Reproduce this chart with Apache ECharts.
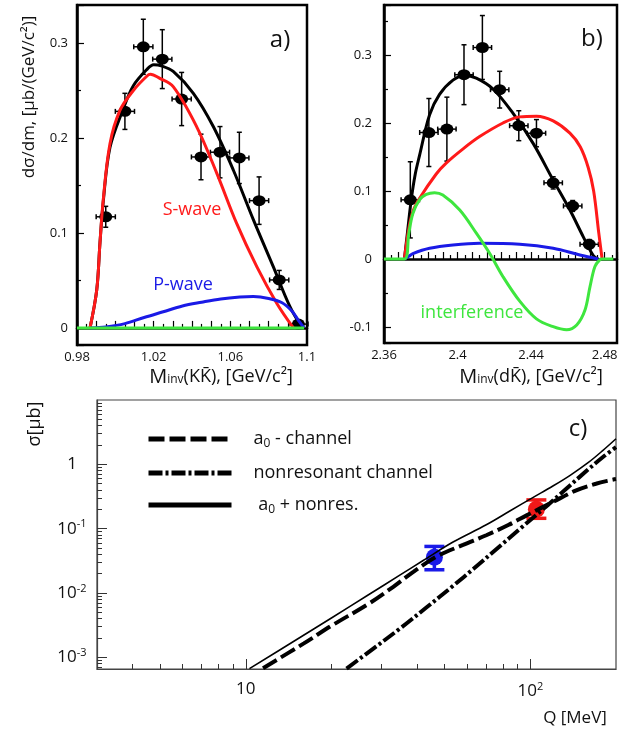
<!DOCTYPE html>
<html lang="en">
<head>
<meta charset="UTF-8">
<title>KK̄ and dK̄ mass spectra, total cross section</title>
<script src="https://cdn.jsdelivr.net/npm/echarts@6/dist/echarts.min.js"></script>
<style>
html, body { margin: 0; padding: 0; background: #fff; }
#chart { width: 640px; height: 731px; }
</style>
</head>
<body>
<div id="chart"></div>
<script>
// ---- panel a) : M_inv(K Kbar) ----
const aMass = [0.995, 1.005, 1.0146, 1.0245, 1.0346, 1.0447, 1.0546, 1.0647, 1.075, 1.0855, 1.0955];
const aVal  = [0.117, 0.228, 0.296, 0.283, 0.241, 0.180, 0.185, 0.179, 0.134, 0.0505, 0.004];
const aErr  = [0.011, 0.019, 0.029, 0.031, 0.028, 0.024, 0.027, 0.027, 0.025, 0.010, 0.004];
const aTotal = [[0.9868,0],[0.9903,0.04],[0.992,0.09],[0.9937,0.133],[0.9972,0.19],[1.0042,0.231],[1.0094,0.255],
  [1.0164,0.272],[1.0200,0.277],[1.0240,0.276],[1.0302,0.270],[1.0407,0.247],[1.0511,0.212],[1.0616,0.166],
  [1.072,0.114],[1.0824,0.0645],[1.0911,0.0224],[1.0975,0]];
const aSwave = [[0.9868,0],[0.9903,0.04],[0.992,0.09],[0.9937,0.135],[0.9972,0.194],[1.0024,0.229],[1.0094,0.25],
  [1.0164,0.265],[1.0183,0.267],[1.0230,0.263],[1.0302,0.254],[1.0424,0.212],[1.0529,0.163],[1.0633,0.11],
  [1.0738,0.0645],[1.0842,0.026],[1.0929,0]];
const aPwave = [[0.987,0],[0.995,0.001],[1.005,0.0045],[1.015,0.011],[1.025,0.017],[1.035,0.023],[1.045,0.027],
  [1.055,0.0305],[1.065,0.0325],[1.072,0.033],[1.08,0.031],[1.087,0.0265],[1.092,0.018],[1.0955,0.008],[1.0985,0]];
const aInterf = [[0.98,0],[1.0985,0]];

// ---- panel b) : M_inv(d Kbar) ----
const bMass = [2.3743, 2.3844, 2.3942, 2.4035, 2.4135, 2.4229, 2.4333, 2.4429, 2.452, 2.4626, 2.4716];
const bVal  = [0.087, 0.186, 0.191, 0.271, 0.311, 0.249, 0.196, 0.185, 0.112, 0.078, 0.0216];
const bErr  = [0.056, 0.05, 0.047, 0.044, 0.047, 0.027, 0.022, 0.02, 0.009, 0.008, 0.007];
const bTotal = [[2.3711,0],[2.3728,0.04],[2.3748,0.087],[2.3770,0.125],[2.3793,0.152],[2.3848,0.212],[2.3902,0.242],
  [2.3975,0.263],[2.404,0.270],[2.4102,0.266],[2.4193,0.25],[2.4302,0.214],[2.4411,0.170],[2.452,0.116],
  [2.4611,0.072],[2.4683,0.033],[2.4738,0.005],[2.4765,0]];
const bSwave = [[2.3711,0],[2.3735,0.045],[2.3757,0.07],[2.3793,0.089],[2.3884,0.125],[2.3938,0.141],[2.4030,0.162],
  [2.4120,0.18],[2.4247,0.2],[2.4337,0.209],[2.4429,0.21],[2.452,0.203],[2.4611,0.185],[2.4667,0.165],
  [2.471,0.135],[2.474,0.1],[2.4768,0.038],[2.4786,0]];
const bPwave = [[2.3711,0],[2.3735,0.004],[2.3757,0.008],[2.3848,0.0157],[2.3975,0.0205],[2.412,0.023],
  [2.4338,0.0216],[2.452,0.0157],[2.4665,0.006],[2.4765,0]];
const bInterf = [[2.36,0],[2.3711,0],[2.3735,0.038],[2.3757,0.067],[2.3793,0.087],[2.383,0.095],[2.3875,0.0975],
  [2.392,0.094],[2.4012,0.072],[2.4102,0.038],[2.4175,0.008],[2.4247,-0.026],[2.4338,-0.062],[2.4429,-0.088],
  [2.452,-0.0995],[2.4593,-0.104],[2.4648,-0.097],[2.4693,-0.075],[2.472,-0.041],[2.4747,-0.011],
  [2.4774,-0.001],[2.4786,0],[2.4847,0]];

// ---- panel c) : sigma(Q) ----
const cSum = [[10.3,6.7e-4],[15,1.86e-3],[20,4.1e-3],[27,9.4e-3],[35,0.0193],[42,0.032],[53.5,0.062],[70,0.115],
  [85,0.19],[102,0.304],[120,0.46],[138,0.675],[160,1.07],[180,1.65],[200,2.5]];
const cA0 = [[11.5,6.8e-4],[16,1.65e-3],[20,3.1e-3],[27,6.8e-3],[33,0.0125],[38.8,0.0213],[46.9,0.037],[58,0.056],
  [70,0.079],[84,0.115],[97,0.161],[120,0.26],[145,0.395],[170,0.5],[190,0.565],[200,0.59]];
const cNonres = [[22.6,6.7e-4],[28,1.36e-3],[34.8,2.8e-3],[43,5.9e-3],[53.6,0.013],[63,0.0236],[77,0.0506],
  [92,0.0995],[114,0.224],[131,0.385],[158,0.8],[180,1.3],[200,1.85]];
const cQ     = [46, 105];
const cSigma = [0.036, 0.2];
const cLow   = [0.023, 0.145];
const cHigh  = [0.053, 0.28];
const cColors = ['#1a1ae8', '#f01818'];

const cXMajor = [10, 100];
const cXMinor = [4, 5, 6, 7, 8, 9, 20, 30, 40, 50, 60, 70, 80, 90];
const cYMajor = [1e-3, 1e-2, 1e-1, 1];
const cYMinor = [7e-4, 8e-4, 9e-4, 2e-3, 3e-3, 4e-3, 5e-3, 6e-3, 7e-3, 8e-3, 9e-3,
  0.02, 0.03, 0.04, 0.05, 0.06, 0.07, 0.08, 0.09, 0.2, 0.3, 0.4, 0.5, 0.6, 0.7, 0.8, 0.9,
  2, 3, 4, 5, 6, 7, 8, 9];

const FONT = "'Open Sans', 'DejaVu Sans', sans-serif";
const RED = '#ff1a1a', BLUE = '#1a1ae6', GREEN = '#3ee63e';

const chart = echarts.init(document.getElementById('chart'));

function errBars(xHalf, cap, width) {
  return function (params, api) {
    const x = api.value(0), y = api.value(1), e = api.value(2);
    const top = api.coord([x, y + e]), bot = api.coord([x, y - e]);
    const lft = api.coord([x - xHalf, y]), rgt = api.coord([x + xHalf, y]);
    const st = { stroke: '#000', lineWidth: width };
    const seg = (x1, y1, x2, y2) => ({ type: 'line', shape: { x1, y1, x2, y2 }, style: st });
    return { type: 'group', children: [
      seg(top[0], top[1], bot[0], bot[1]),
      seg(top[0] - cap, top[1], top[0] + cap, top[1]),
      seg(bot[0] - cap, bot[1], bot[0] + cap, bot[1]),
      seg(lft[0], lft[1], rgt[0], rgt[1]),
      seg(lft[0], lft[1] - cap, lft[0], lft[1] + cap),
      seg(rgt[0], rgt[1] - cap, rgt[0], rgt[1] + cap)
    ]};
  };
}

function pointBars(params, api) {
  const x = api.value(0), lo = api.value(2), hi = api.value(3);
  const a = api.coord([x, hi]), b = api.coord([x, lo]);
  const st = { stroke: api.visual('color'), lineWidth: 3.5 };
  return { type: 'group', children: [
    { type: 'line', shape: { x1: a[0], y1: a[1], x2: b[0], y2: b[1] }, style: st },
    { type: 'line', shape: { x1: a[0] - 10, y1: a[1], x2: a[0] + 10, y2: a[1] }, style: st },
    { type: 'line', shape: { x1: b[0] - 10, y1: b[1], x2: b[0] + 10, y2: b[1] }, style: st }
  ]};
}

const tickLbl = { fontFamily: FONT, fontSize: 13, color: '#111' };
const frameLine = { lineStyle: { color: '#000', width: 2.5 } };
const inTick = (len) => ({ inside: true, length: len, lineStyle: { color: '#000', width: 1.2 } });

function linAxis(grid, min, max, extra) {
  return Object.assign({
    gridIndex: grid, type: 'value', min: min, max: max,
    axisLine: frameLine, axisTick: inTick(7),
    minorTick: { show: true, splitNumber: 2, length: 4, lineStyle: { color: '#000', width: 1.2 } },
    splitLine: { show: false }, minorSplitLine: { show: false }
  }, extra);
}

const xLabA = (v) => Math.round((v - 0.98) / 0.01) % 4 === 0 ? String(+v.toFixed(2)) : '';
const xLabB = (v) => Math.round((v - 2.36) / 0.008) % 5 === 0 ? String(+v.toFixed(2)) : '';
const yLab = (v) => Math.abs(v * 10 - Math.round(v * 10)) < 1e-6 ? String(+v.toFixed(1)) : '';

const supRich = {
  b: { fontFamily: FONT, fontSize: 17, color: '#111' },
  s: { fontFamily: FONT, fontSize: 11, color: '#111', padding: [0, 0, 9, 0] }
};
const logLab = (v) => {
  const e = Math.round(Math.log10(v));
  if (Math.abs(Math.log10(v) - e) > 1e-6) return '';
  if (e === 0) return '{b|1}';
  if (e === 1) return '{b|10}';
  return '{b|10}{s|' + e + '}';
};

function logAxis(grid, min, max, major, minor, isMinor, extra) {
  return Object.assign({
    gridIndex: grid, type: 'log', logBase: 10, min: min, max: max,
    axisLine: { show: !isMinor, lineStyle: { color: '#444', width: 1.2 } },
    axisTick: { inside: true, length: isMinor ? 5 : 10, customValues: isMinor ? minor : major,
      lineStyle: { color: '#333', width: 1 } },
    axisLabel: isMinor ? { show: false } : { customValues: major, formatter: logLab, rich: supRich },
    splitLine: { show: false }
  }, extra);
}

const lineSeries = (xi, data, color, width, extra) => Object.assign({
  type: 'line', xAxisIndex: xi, yAxisIndex: xi, data: data, symbol: 'none',
  smooth: 0.35, lineStyle: { color: color, width: width }, itemStyle: { color: color },
  silent: true
}, extra);

const legendNames = ['a0 - channel', 'nonresonant channel', 'a0 + nonres.'];
const legendText = {
  'a0 - channel': '{t|a}{u|0}{t| - channel}',
  'nonresonant channel': '{t|nonresonant channel}',
  'a0 + nonres.': '{t| a}{u|0}{t| + nonres.}'
};

const option = {
  animation: false,
  backgroundColor: '#fff',
  grid: [
    { left: 77, top: 5, width: 230, height: 340, show: true, borderColor: '#000', borderWidth: 2.5 },
    { left: 384, top: 5, width: 233, height: 338, show: true, borderColor: '#000', borderWidth: 2.5 },
    { left: 97, top: 400, width: 519, height: 269, show: true, borderColor: '#444', borderWidth: 1.2 }
  ],
  xAxis: [
    linAxis(0, 0.98, 1.1, { interval: 0.01, axisLabel: Object.assign({ formatter: xLabA, margin: 6 }, tickLbl) }),
    linAxis(1, 2.36, 2.4867, { interval: 0.008, axisLabel: Object.assign({ formatter: xLabB, margin: 6 }, tickLbl) }),
    logAxis(2, 3, 200, cXMajor, cXMinor, false, { position: 'bottom', axisLabel: { customValues: cXMajor, formatter: logLab, rich: supRich, margin: 12 } }),
    logAxis(2, 3, 200, cXMajor, cXMinor, true, { position: 'bottom' })
  ],
  yAxis: [
    linAxis(0, -0.018, 0.34, { axisLabel: Object.assign({ formatter: yLab, margin: 9 }, tickLbl) }),
    linAxis(1, -0.1235, 0.3735, { axisLabel: Object.assign({ formatter: yLab, margin: 12 }, tickLbl) }),
    logAxis(2, 6.6e-4, 10, cYMajor, cYMinor, false, { position: 'left', axisLabel: { customValues: cYMajor, formatter: logLab, rich: supRich, align: 'center', margin: 25 } }),
    logAxis(2, 6.6e-4, 10, cYMajor, cYMinor, true, { position: 'left' })
  ],
  legend: {
    data: legendNames, orient: 'vertical', left: 141, top: 425,
    itemWidth: 83, itemHeight: 12, itemGap: 14, selectedMode: false,
    lineStyle: { width: 5 },
    itemStyle: { color: 'rgba(0,0,0,0)', borderWidth: 0 },
    formatter: (name) => legendText[name],
    textStyle: { padding: [0, 0, 0, 17], rich: {
      t: { fontFamily: FONT, fontSize: 18, color: '#111' },
      u: { fontFamily: FONT, fontSize: 12, color: '#111', padding: [10, 0, 0, 0] }
    } }
  },
  graphic: [
    { type: 'text', x: 280, y: 40, style: { text: 'a)', fontFamily: FONT, fontSize: 24, fill: '#111', align: 'center', verticalAlign: 'middle', textAlign: 'center', textVerticalAlign: 'middle' } },
    { type: 'text', x: 592, y: 39, style: { text: 'b)', fontFamily: FONT, fontSize: 24, fill: '#111', align: 'center', verticalAlign: 'middle', textAlign: 'center', textVerticalAlign: 'middle' } },
    { type: 'text', x: 578, y: 429, style: { text: 'c)', fontFamily: FONT, fontSize: 24, fill: '#111', align: 'center', verticalAlign: 'middle', textAlign: 'center', textVerticalAlign: 'middle' } },
    { type: 'text', x: 192, y: 210, style: { text: 'S-wave', fontFamily: FONT, fontSize: 18, fill: RED, align: 'center', verticalAlign: 'middle', textAlign: 'center', textVerticalAlign: 'middle' } },
    { type: 'text', x: 183, y: 285, style: { text: 'P-wave', fontFamily: FONT, fontSize: 18, fill: BLUE, align: 'center', verticalAlign: 'middle', textAlign: 'center', textVerticalAlign: 'middle' } },
    { type: 'text', x: 472, y: 313, style: { text: 'interference', fontFamily: FONT, fontSize: 18, fill: GREEN, align: 'center', verticalAlign: 'middle', textAlign: 'center', textVerticalAlign: 'middle' } },
    { type: 'text', x: 29, y: 97, rotation: Math.PI / 2, style: { text: 'dσ/dm, [µb/(GeV/c²)]', fontFamily: FONT, fontSize: 17, fill: '#111', align: 'center', verticalAlign: 'middle', textAlign: 'center', textVerticalAlign: 'middle' } },
    { type: 'text', x: 35, y: 424, rotation: Math.PI / 2, style: { text: 'σ[µb]', fontFamily: FONT, fontSize: 18, fill: '#111', align: 'center', verticalAlign: 'middle', textAlign: 'center', textVerticalAlign: 'middle' } },
    { type: 'text', x: 575, y: 718, style: { text: 'Q [MeV]', fontFamily: FONT, fontSize: 17, fill: '#111', align: 'center', verticalAlign: 'middle', textAlign: 'center', textVerticalAlign: 'middle' } },
    { type: 'text', x: 221, y: 377, style: { text: '{M|M}{i|inv}{t|(KK\u0304), [GeV/c²]}', align: 'center', verticalAlign: 'middle', textAlign: 'center', textVerticalAlign: 'middle',
      rich: { M: { fontFamily: FONT, fontSize: 20, fill: '#111' }, i: { fontFamily: FONT, fontSize: 12, fill: '#111', padding: [5, 0, 0, 0] }, t: { fontFamily: FONT, fontSize: 18, fill: '#111' } } } },
    { type: 'text', x: 531, y: 377, style: { text: '{M|M}{i|inv}{t|(dK\u0304), [GeV/c²]}', align: 'center', verticalAlign: 'middle', textAlign: 'center', textVerticalAlign: 'middle',
      rich: { M: { fontFamily: FONT, fontSize: 20, fill: '#111' }, i: { fontFamily: FONT, fontSize: 12, fill: '#111', padding: [5, 0, 0, 0] }, t: { fontFamily: FONT, fontSize: 18, fill: '#111' } } } }
  ],
  series: [
    // a)
    lineSeries(0, aTotal, '#000', 3),
    lineSeries(0, aSwave, RED, 3),
    lineSeries(0, aPwave, BLUE, 3),
    lineSeries(0, aInterf, GREEN, 3, { smooth: false }),
    { type: 'custom', xAxisIndex: 0, yAxisIndex: 0, renderItem: errBars(0.005, 2.5, 1.5),
      data: aMass.map((m, i) => [m, aVal[i], aErr[i]]), encode: { x: 0, y: 1 }, silent: true },
    { type: 'scatter', xAxisIndex: 0, yAxisIndex: 0, symbol: 'circle', symbolSize: [13, 11],
      itemStyle: { color: '#000', opacity: 1 }, data: aMass.map((m, i) => [m, aVal[i]]), silent: true },
    // b)
    lineSeries(1, bTotal, '#000', 3),
    lineSeries(1, bSwave, RED, 3),
    lineSeries(1, bPwave, BLUE, 3),
    lineSeries(1, bInterf, GREEN, 3),
    { type: 'custom', xAxisIndex: 1, yAxisIndex: 1, renderItem: errBars(0.005, 2.5, 1.5),
      data: bMass.map((m, i) => [m, bVal[i], bErr[i]]), encode: { x: 0, y: 1 }, silent: true },
    { type: 'scatter', xAxisIndex: 1, yAxisIndex: 1, symbol: 'circle', symbolSize: [13, 11],
      itemStyle: { color: '#000', opacity: 1 }, data: bMass.map((m, i) => [m, bVal[i]]), silent: true },
    // c)
    lineSeries(2, cA0, '#000', 4, { name: 'a0 - channel', lineStyle: { color: '#000', width: 4, type: [16, 5] } }),
    lineSeries(2, cNonres, '#000', 4, { name: 'nonresonant channel', lineStyle: { color: '#000', width: 4, type: [14, 3, 3, 3] } }),
    lineSeries(2, cSum, '#000', 1.6, { name: 'a0 + nonres.' }),
    { type: 'custom', xAxisIndex: 2, yAxisIndex: 2, renderItem: pointBars, encode: { x: 0, y: 1 }, silent: true,
      data: cQ.map((q, i) => ({ value: [q, cSigma[i], cLow[i], cHigh[i]], itemStyle: { color: cColors[i] } })) },
    { type: 'scatter', xAxisIndex: 2, yAxisIndex: 2, symbol: 'circle', symbolSize: 17, silent: true,
      itemStyle: { opacity: 1 },
      data: cQ.map((q, i) => ({ value: [q, cSigma[i]], itemStyle: { color: cColors[i], opacity: 1 } })) }
  ]
};

chart.setOption(option);
</script>
</body>
</html>
